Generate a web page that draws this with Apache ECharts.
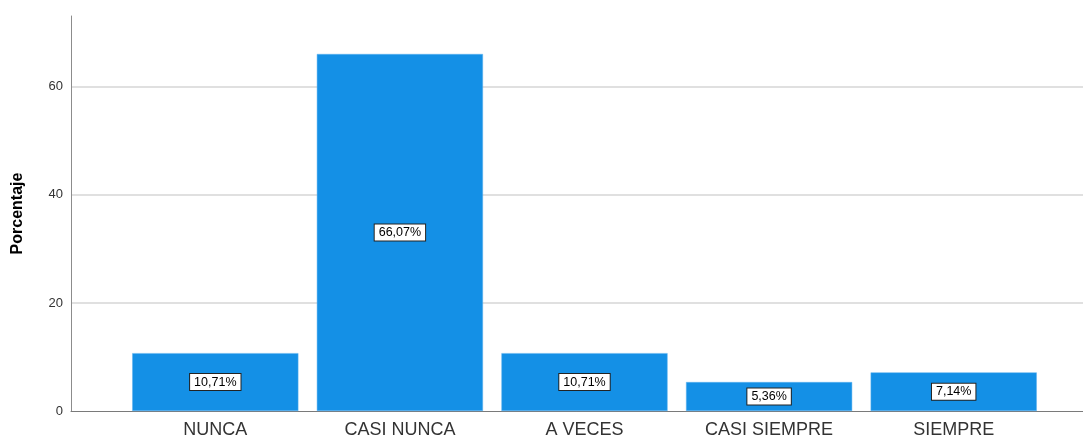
<!DOCTYPE html>
<html>
<head>
<meta charset="utf-8">
<script src="https://cdn.jsdelivr.net/npm/echarts@6/dist/echarts.min.js"></script>
<style>
  html, body { margin: 0; padding: 0; background: #fff; }
  #chart { width: 1083px; height: 437px; }
</style>
</head>
<body>
<div id="chart"></div>
<script>
var categories = ['NUNCA', 'CASI NUNCA', 'A VECES', 'CASI SIEMPRE', 'SIEMPRE'];
var percentValues = [10.71, 66.07, 10.71, 5.36, 7.14];
var yTicks = [0, 20, 40, 60];
var yMax = 73.1;

var myChart = echarts.init(document.getElementById('chart'));

var font = '"Liberation Sans", Arial, sans-serif';

myChart.setOption({
  animation: false,
  grid: [
    { left: 71, right: 0, top: 16, bottom: 26, outerBoundsMode: 'none', containLabel: false },
    { left: 123, right: 37, top: 16, bottom: 26, outerBoundsMode: 'none', containLabel: false }
  ],
  xAxis: [
    {
      gridIndex: 0,
      type: 'value',
      min: 0,
      max: 1,
      axisLine: { show: true, lineStyle: { color: '#7a7a7a', width: 1 } },
      axisTick: { show: false },
      axisLabel: { show: false },
      splitLine: { show: false }
    },
    {
      gridIndex: 1,
      type: 'category',
      data: categories,
      axisLine: { show: false },
      axisTick: { show: false },
      axisLabel: {
        color: '#333',
        fontFamily: font,
        fontSize: 18,
        margin: 10
      }
    }
  ],
  yAxis: [
    {
      gridIndex: 0,
      type: 'value',
      min: 0,
      max: yMax,
      interval: 20,
      name: 'Porcentaje',
      nameLocation: 'middle',
      nameGap: 45,
      nameTextStyle: { color: '#000', fontFamily: font, fontSize: 16, fontWeight: 'bold' },
      axisLine: { show: true, lineStyle: { color: '#8c8c8c', width: 1 } },
      axisTick: { show: false },
      axisLabel: {
        color: '#333',
        fontFamily: font,
        fontSize: 13,
        margin: 8,
        showMaxLabel: false,
        formatter: function (v) { return yTicks.indexOf(v) >= 0 ? String(v) : ''; }
      },
      splitLine: { show: true, showMinLine: false, showMaxLine: false, lineStyle: { color: '#d6d6d6', width: 1.5 } }
    },
    {
      gridIndex: 1,
      type: 'value',
      min: 0,
      max: yMax,
      show: false
    }
  ],
  series: [{
    type: 'bar',
    xAxisIndex: 1,
    yAxisIndex: 1,
    data: percentValues,
    barCategoryGap: '10%',
    itemStyle: { color: '#1490e6', borderColor: '#5fb3ee', borderWidth: 0.5 },
    label: {
      show: true,
      position: 'inside',
      formatter: function (p) { return p.value.toFixed(2).replace('.', ',') + '%'; },
      color: '#000',
      fontFamily: font,
      fontSize: 12.5,
      backgroundColor: '#fff',
      borderColor: '#222',
      borderWidth: 1,
      padding: [2, 4, 1, 4]
    }
  }]
});
</script>
</body>
</html>
